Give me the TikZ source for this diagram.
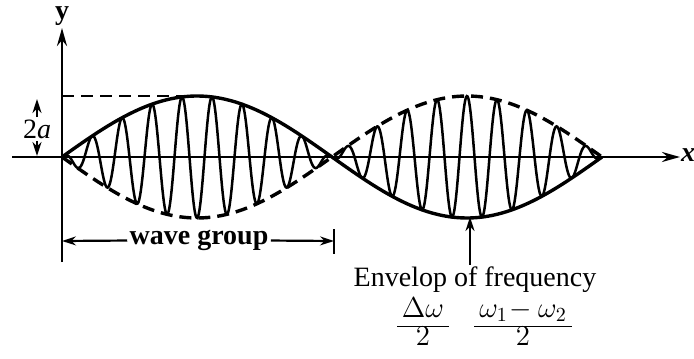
\documentclass[tikz,border=0pt]{standalone}
\usepackage{amsmath}
\usepackage{fontspec}
\setmainfont{Liberation Serif}
\usetikzlibrary{arrows.meta}
\renewcommand{\arraystretch}{0.8}
\begin{document}
\begin{tikzpicture}[
  x=0.5pt, y=-0.5pt,
  axis/.style={line width=1.3pt, -{Stealth[length=9pt,width=5pt]}},
  env/.style={line width=1.7pt},
  envdash/.style={line width=1.7pt, dash pattern=on 6pt off 3.5pt},
  carrier/.style={line width=1.25pt},
  dim/.style={line width=1.1pt, -{Stealth[length=7pt,width=4.5pt]}},
  lbl/.style={font=\fontsize{14}{17}\selectfont, inner sep=1pt}
]
\useasboundingbox (0,0) rectangle (694,358);
% axes
\coordinate (ybot) at (62,262);
\coordinate (ytip) at (62,28);
\coordinate (xbeg) at (12,157);
\coordinate (xtip) at (680,157);
\draw[axis] (ybot) -- (ytip);
\draw[axis] (xbeg) -- (xtip);
\node[lbl, inner sep=0pt, font=\fontsize{14}{17}\selectfont\bfseries] (ylbl) at (62,16) {y};
\node[lbl, inner sep=0pt, font=\fontsize{14}{17}\selectfont\bfseries\itshape] (xlbl) at (688,155) {x};
% envelopes and carrier
\draw[env] plot[domain=62:602, samples=120] (\x, {157-61*sin((\x-62)*2/3)});
\draw[envdash] plot[domain=62:602, samples=120] (\x, {157+61*sin((\x-62)*2/3)});
\draw[carrier] plot[domain=62:602, samples=700]
  (\x, {157-61*sin((\x-62)*2/3)*cos((\x-62)*12)});
% amplitude mark
\coordinate (amp) at (62,96);
\coordinate (ampR) at (200,96);
\draw[envdash, line width=1.3pt] (amp) -- (ampR);
\node[lbl] (twoa) at (37,129) {2\textit{a}};
\coordinate (upT) at (37,99);
\coordinate (dnT) at (37,156);
\draw[dim] (twoa.north) -- (upT);
\draw[dim] (twoa.south) -- (dnT);
% wave group
\node[lbl, font=\fontsize{14}{17}\selectfont\bfseries] (wg) at (199,240) {wave group};
\coordinate (wgL) at (62,241);
\coordinate (wgR) at (334,241);
\coordinate (tkA) at (334,229);
\coordinate (tkB) at (334,254);
\draw[dim] (wg) -- (wgL);
\draw[dim] (wg) -- (wgR);
\draw[line width=1.3pt] (tkA) -- (tkB);
% envelope label
\node[lbl] (envl) at (475,280) {Envelop of frequency};
\coordinate (envtip) at (470,217);
\draw[dim] (envl.north -| envtip) -- (envtip);
\node[lbl] (fa) at (423,326) {$\begin{array}{@{\,}c@{\,}}\Delta\omega\\\hline 2\end{array}$};
\node[lbl] (fb) at (523,326) {$\begin{array}{@{\,}c@{\,}}\omega_1\!-\omega_2\\\hline 2\end{array}$};
\end{tikzpicture}
\end{document}
